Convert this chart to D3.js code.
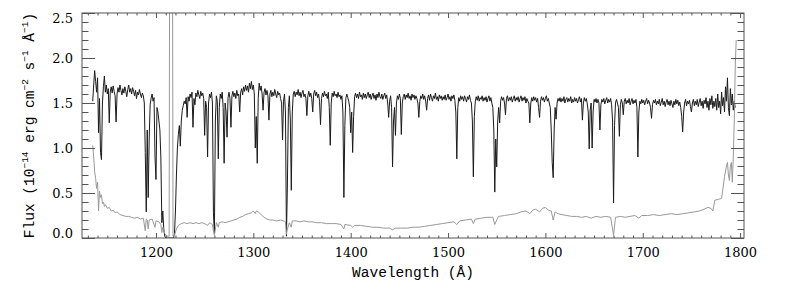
<!DOCTYPE html>
<html>
<head>
<meta charset="utf-8">
<script src="https://cdn.jsdelivr.net/npm/d3@7"></script>
<style>
  body { margin: 0; background: #fff; }
  svg { display: block; }
  .lbl { font-family: 'DejaVu Serif', serif; font-size: 13px; fill: #000; }
  .axis-title { font-family: 'Liberation Mono', monospace; font-size: 14.5px; fill: #000; }
</style>
</head>
<body>
<svg id="chart" width="785" height="292"></svg>
<script>
// data

// flux on a regular 1 A grid starting at 1135 A (units of 1e-14)
const fluxStart = 1135;
const fluxStep = 1;
const flux = [
    1.52, 1.70, 1.86, 1.74, 1.62, 1.78, 1.17, 1.55, 0.95, 0.87, 1.50, 1.68, 1.80, 1.62, 1.70, 1.60, 1.66, 1.28, 1.62, 1.68,
    1.61, 1.69, 1.63, 1.58, 1.29, 1.60, 1.67, 1.62, 1.70, 1.64, 1.59, 1.66, 1.61, 1.68, 1.63, 1.57, 1.65, 1.70, 1.62, 1.66,
    1.60, 1.67, 1.63, 1.58, 1.64, 1.55, 1.62, 1.59, 1.65, 1.60, 1.56, 1.61, 1.58, 1.50, 0.95, 0.29, 1.20, 0.45, 1.10, 1.48,
    1.55, 1.60, 1.52, 1.56, 0.90, 0.65, 1.45, 1.40, 1.30, 1.20, 0.90, 0.17, 0.30, 0.10, 0.02, 0.00, 0.00, 0.00, 0.00, 0.00,
    0.00, 0.00, 0.00, 0.00, 0.05, 0.30, 0.70, 1.00, 1.15, 1.25, 1.02, 1.30, 1.42, 1.47, 1.52, 1.49, 1.56, 1.34, 1.57, 1.52,
    1.60, 1.56, 1.62, 1.23, 1.55, 1.48, 1.61, 1.57, 1.64, 1.59, 1.55, 1.63, 1.58, 1.61, 1.55, 1.14, 1.52, 1.45, 0.90, 1.50,
    1.60, 1.56, 1.62, 1.50, 0.28, 0.05, 1.30, 1.58, 1.52, 0.88, 1.45, 1.60, 1.55, 1.62, 1.45, 0.83, 1.50, 1.40, 1.12, 1.56,
    1.62, 1.55, 1.23, 1.58, 1.63, 1.57, 1.61, 1.55, 1.64, 1.58, 1.60, 1.40, 1.62, 1.66, 1.59, 1.68, 1.63, 1.70, 1.64, 1.69,
    1.62, 1.72, 1.66, 1.74, 1.65, 1.70, 1.60, 1.00, 1.35, 0.83, 1.55, 1.72, 1.64, 1.69, 1.60, 1.42, 1.62, 1.66, 1.59, 1.64,
    1.58, 1.31, 1.60, 1.64, 1.57, 1.62, 1.58, 1.65, 1.60, 1.56, 1.63, 1.59, 1.61, 1.55, 1.50, 1.09, 1.52, 1.60, 1.40, 0.02,
    0.60, 1.45, 1.58, 1.30, 0.53, 1.40, 1.60, 1.63, 1.57, 1.62, 1.59, 1.65, 1.58, 1.62, 1.56, 1.61, 1.64, 1.57, 1.60, 1.55,
    1.36, 1.58, 1.63, 1.57, 1.61, 1.55, 1.40, 1.60, 1.64, 1.58, 1.62, 1.56, 1.60, 1.52, 1.26, 1.55, 1.61, 1.57, 1.63, 1.58,
    1.60, 1.55, 1.62, 1.45, 1.03, 1.50, 1.61, 1.57, 1.63, 1.58, 1.60, 1.56, 1.62, 1.57, 1.59, 1.54, 1.58, 1.40, 0.45, 1.25,
    1.55, 1.60, 1.56, 1.52, 1.45, 1.17, 1.40, 0.95, 1.35, 1.57, 1.61, 1.56, 1.60, 1.55, 1.62, 1.57, 1.59, 1.54, 1.61, 1.56,
    1.60, 1.55, 1.59, 1.62, 1.56, 1.60, 1.54, 1.58, 1.61, 1.55, 1.59, 1.53, 1.60, 1.56, 1.62, 1.57, 1.55, 1.60, 1.54, 1.58,
    1.61, 1.55, 1.59, 1.50, 1.34, 1.52, 1.58, 1.45, 0.79, 1.30, 1.45, 1.14, 1.50, 1.58, 1.54, 1.60, 1.55, 1.15, 1.50, 1.57,
    1.60, 1.54, 1.59, 1.56, 1.61, 1.55, 1.58, 1.53, 1.60, 1.56, 1.59, 1.54, 1.58, 1.55, 1.50, 1.34, 1.52, 1.58, 1.55, 1.60,
    1.54, 1.58, 1.52, 1.42, 1.55, 1.59, 1.53, 1.60, 1.56, 1.52, 1.58, 1.55, 1.61, 1.54, 1.57, 1.52, 1.59, 1.55, 1.58, 1.53,
    1.57, 1.54, 1.59, 1.53, 1.56, 1.60, 1.54, 1.57, 1.52, 1.58, 1.55, 1.59, 1.53, 1.40, 0.88, 1.45, 1.56, 1.52, 1.58, 1.54,
    1.57, 1.52, 1.58, 1.55, 1.51, 1.57, 1.54, 1.59, 1.53, 1.50, 1.30, 0.68, 1.35, 1.52, 1.57, 1.53, 1.58, 1.52, 1.56, 1.54,
    1.58, 1.52, 1.56, 1.53, 1.57, 1.51, 1.55, 1.58, 1.52, 1.56, 1.50, 1.45, 1.20, 0.51, 1.10, 0.79, 1.30, 1.45, 1.28, 1.52,
    1.57, 1.53, 1.56, 1.50, 1.37, 1.55, 1.58, 1.52, 1.56, 1.53, 1.57, 1.51, 1.55, 1.58, 1.52, 1.56, 1.53, 1.57, 1.51, 1.55,
    1.58, 1.52, 1.56, 1.53, 1.57, 1.50, 1.55, 1.52, 1.50, 1.28, 1.50, 1.56, 1.52, 1.57, 1.53, 1.56, 1.51, 1.55, 1.45, 1.34,
    1.52, 1.57, 1.53, 1.56, 1.51, 1.55, 1.58, 1.52, 1.55, 1.50, 1.45, 1.20, 0.84, 0.67, 1.20, 1.45, 1.32, 1.50, 1.55, 1.52,
    1.56, 1.51, 1.55, 1.52, 1.57, 1.50, 1.54, 1.56, 1.51, 1.55, 1.52, 1.57, 1.50, 1.54, 1.51, 1.56, 1.52, 1.55, 1.50, 1.54,
    1.57, 1.51, 1.55, 1.31, 1.50, 1.56, 1.52, 1.55, 1.49, 1.40, 0.99, 1.42, 1.50, 1.00, 1.40, 1.54, 1.51, 1.55, 1.50, 1.54,
    1.50, 1.20, 1.48, 1.54, 1.51, 1.55, 1.49, 1.53, 1.56, 1.50, 1.54, 1.51, 1.55, 1.48, 1.30, 0.39, 1.25, 1.50, 1.54, 1.50,
    1.45, 1.13, 1.48, 1.54, 1.50, 1.37, 1.52, 1.55, 1.49, 1.53, 1.50, 1.55, 1.48, 1.52, 1.55, 1.49, 1.53, 1.50, 1.54, 1.45,
    0.90, 1.40, 1.52, 1.49, 1.54, 1.50, 1.53, 1.48, 1.52, 1.55, 1.49, 1.53, 1.50, 1.45, 1.33, 1.48, 1.53, 1.50, 1.54, 1.48,
    1.52, 1.49, 1.54, 1.47, 1.51, 1.55, 1.48, 1.52, 1.46, 1.51, 1.54, 1.48, 1.52, 1.47, 1.53, 1.49, 1.45, 1.52, 1.48, 1.54,
    1.49, 1.53, 1.47, 1.51, 1.45, 1.35, 1.18, 1.40, 1.50, 1.54, 1.47, 1.52, 1.49, 1.53, 1.46, 1.40, 1.50, 1.54, 1.47, 1.52,
    1.48, 1.54, 1.46, 1.51, 1.55, 1.47, 1.52, 1.44, 1.53, 1.49, 1.56, 1.45, 1.52, 1.42, 1.55, 1.48, 1.58, 1.44, 1.52, 1.46,
    1.55, 1.42, 1.60, 1.45, 1.52, 1.38, 1.62, 1.47, 1.56, 1.40, 1.68, 1.52, 1.78, 1.45, 1.36, 1.66, 1.48, 1.60, 1.42, 1.52,
    1.45
];

// error spectrum as [wavelength, value]
const errorPoints = [
    [1135, 1.03], [1136, 0.90], [1137, 0.74], [1138, 0.66], [1139, 0.55], [1140, 0.62], [1141, 0.30],
    [1142, 0.52], [1143, 0.45], [1144, 0.48], [1145, 0.38], [1146, 0.40], [1147, 0.35], [1148, 0.37],
    [1150, 0.33], [1152, 0.34], [1154, 0.30], [1156, 0.31], [1158, 0.28], [1160, 0.29], [1163, 0.26],
    [1166, 0.25], [1169, 0.24], [1172, 0.24], [1175, 0.23], [1178, 0.22], [1181, 0.23], [1184, 0.21],
    [1187, 0.22], [1189, 0.08], [1190, 0.21], [1191, 0.20], [1192, 0.10], [1193, 0.20], [1196, 0.21],
    [1199, 0.12], [1200, 0.19], [1203, 0.18], [1205, 0.15], [1206, 0.06], [1207, 0.12], [1209, 0.05],
    [1211, 0.02], [1213.5, 0.02], [1214, 3.0], [1217, 3.0], [1217.5, 0.02], [1219, 0.03], [1221, 0.10],
    [1223, 0.14], [1226, 0.16], [1229, 0.17], [1232, 0.16], [1235, 0.17], [1238, 0.16], [1241, 0.17],
    [1244, 0.16], [1247, 0.17], [1250, 0.16], [1253, 0.14], [1255, 0.17], [1258, 0.15], [1259, 0.08],
    [1260, 0.03], [1261, 0.10], [1262, 0.17], [1264, 0.12], [1265, 0.17], [1268, 0.18], [1271, 0.17],
    [1274, 0.18], [1277, 0.19], [1280, 0.20], [1283, 0.21], [1286, 0.23], [1289, 0.24], [1292, 0.26],
    [1295, 0.27], [1298, 0.28], [1300, 0.30], [1302, 0.27], [1303, 0.30], [1305, 0.29], [1308, 0.26],
    [1311, 0.23], [1314, 0.21], [1317, 0.20], [1320, 0.20], [1324, 0.19], [1328, 0.20], [1331, 0.19],
    [1333, 0.18], [1334, 0.04], [1335, 0.10], [1337, 0.17], [1339, 0.12], [1340, 0.19], [1344, 0.19],
    [1348, 0.18], [1352, 0.19], [1356, 0.18], [1360, 0.18], [1365, 0.17], [1370, 0.17], [1375, 0.16],
    [1380, 0.16], [1385, 0.16], [1390, 0.15], [1393, 0.10], [1394, 0.15], [1400, 0.14], [1402, 0.12],
    [1404, 0.14], [1410, 0.14], [1416, 0.13], [1422, 0.12], [1428, 0.12], [1434, 0.11], [1440, 0.11],
    [1443, 0.09], [1446, 0.11], [1452, 0.11], [1458, 0.11], [1464, 0.12], [1470, 0.12], [1476, 0.13],
    [1482, 0.14], [1488, 0.15], [1494, 0.16], [1500, 0.17], [1506, 0.18], [1509, 0.15], [1512, 0.19],
    [1518, 0.20], [1524, 0.21], [1526, 0.16], [1528, 0.21], [1534, 0.22], [1540, 0.23], [1546, 0.23],
    [1548, 0.15], [1550, 0.20], [1552, 0.24], [1558, 0.25], [1564, 0.26], [1570, 0.27], [1575, 0.29],
    [1580, 0.30], [1584, 0.27], [1587, 0.31], [1590, 0.32], [1594, 0.29], [1597, 0.33], [1600, 0.34],
    [1603, 0.31], [1606, 0.30], [1608, 0.20], [1610, 0.29], [1613, 0.27], [1617, 0.26], [1622, 0.25],
    [1627, 0.24], [1632, 0.24], [1637, 0.23], [1642, 0.24], [1647, 0.22], [1652, 0.24], [1657, 0.23],
    [1662, 0.24], [1667, 0.23], [1670, 0.03], [1672, 0.23], [1677, 0.24], [1682, 0.23], [1687, 0.24],
    [1692, 0.25], [1696, 0.22], [1699, 0.25], [1705, 0.25], [1711, 0.26], [1717, 0.25], [1723, 0.26],
    [1729, 0.27], [1735, 0.26], [1741, 0.27], [1747, 0.28], [1753, 0.29], [1758, 0.30], [1763, 0.32],
    [1767, 0.34], [1770, 0.33], [1772, 0.30], [1774, 0.42], [1778, 0.43], [1781, 0.44], [1783, 0.60],
    [1784, 0.68], [1786, 0.80], [1787, 0.84], [1788, 0.70], [1789, 0.64], [1790, 0.80], [1791, 0.84],
    [1792, 0.62], [1793, 0.90], [1794, 1.30], [1795, 1.90], [1796, 2.20]
];

const xMajorTicks = [1200, 1300, 1400, 1500, 1600, 1700, 1800];
const yMajorTicks = [0, 0.5, 1.0, 1.5, 2.0, 2.5];
const yTickLabels = ['0.0', '0.5', '1.0', '1.5', '2.0', '2.5'];

// sizes

let plotLeft = 82;
let plotRight = 744;
let plotTop = 13;
let plotBottom = 238;

// scales

let xScale = d3.scaleLinear()
    .domain([1124, 1804])
    .range([plotLeft, plotRight]);

let yScale = d3.scaleLinear()
    .domain([0, 2.5])
    .range([plotBottom, plotTop]);

let svg = d3.select('#chart');

svg.append('defs').append('clipPath')
    .attr('id', 'plot-clip')
    .append('rect')
    .attr('x', plotLeft)
    .attr('y', plotTop)
    .attr('width', plotRight - plotLeft)
    .attr('height', plotBottom - plotTop);

// spectra

let fluxData = flux.map((v, i) => [fluxStart + i * fluxStep, v]);

let line = d3.line()
    .x(d => xScale(d[0]))
    .y(d => yScale(d[1]));

let plotArea = svg.append('g').attr('clip-path', 'url(#plot-clip)');

plotArea.append('path')
    .datum(fluxData)
    .attr('d', line)
    .attr('fill', 'none')
    .attr('stroke', '#1a1a1a')
    .attr('stroke-width', 1);

plotArea.append('path')
    .datum(errorPoints)
    .attr('d', line)
    .attr('fill', 'none')
    .attr('stroke', '#999')
    .attr('stroke-width', 1);

// axes (ticks point inward, IDL style)

let xMinor = d3.range(1130, 1801, 10).filter(v => v % 100 !== 0);
let yMinor = d3.range(1, 25).map(v => v / 10).filter(v => Math.round(v * 10) % 5 !== 0);

function styleAxis(g) {
    g.select('.domain').remove();
    g.selectAll('.tick line').attr('stroke', '#555').attr('stroke-width', 1);
}

let axes = [
    [d3.axisTop, 'translate(0,' + plotBottom + ')', xScale, xMinor, 2.5],
    [d3.axisTop, 'translate(0,' + plotBottom + ')', xScale, xMajorTicks, 5],
    [d3.axisBottom, 'translate(0,' + plotTop + ')', xScale, xMinor, 2.5],
    [d3.axisBottom, 'translate(0,' + plotTop + ')', xScale, xMajorTicks, 5],
    [d3.axisRight, 'translate(' + plotLeft + ',0)', yScale, yMinor, 6.5],
    [d3.axisRight, 'translate(' + plotLeft + ',0)', yScale, yMajorTicks, 13],
    [d3.axisLeft, 'translate(' + plotRight + ',0)', yScale, yMinor, 6.5],
    [d3.axisLeft, 'translate(' + plotRight + ',0)', yScale, yMajorTicks, 13]
];

for (const a of axes) {
    svg.append('g')
        .attr('transform', a[1])
        .call(a[0](a[2]).tickValues(a[3]).tickSize(a[4]).tickFormat(''))
        .call(styleAxis);
}

// frame
svg.append('rect')
    .attr('x', plotLeft)
    .attr('y', plotTop)
    .attr('width', plotRight - plotLeft)
    .attr('height', plotBottom - plotTop)
    .attr('fill', 'none')
    .attr('stroke', '#555')
    .attr('stroke-width', 1);

// tick labels

svg.append('g')
    .attr('transform', 'translate(0,' + plotBottom + ')')
    .call(d3.axisBottom(xScale).tickValues(xMajorTicks).tickSize(0).tickPadding(10).tickFormat(d3.format('d')))
    .call(g => g.select('.domain').remove())
    .call(g => g.selectAll('text').attr('class', 'lbl').attr('font-family', null).attr('font-size', null));

svg.append('g')
    .attr('transform', 'translate(' + plotLeft + ',0)')
    .call(d3.axisLeft(yScale).tickValues(yMajorTicks).tickSize(0).tickPadding(9)
        .tickFormat((d, i) => yTickLabels[i]))
    .call(g => g.select('.domain').remove())
    .call(g => g.selectAll('text')
        .attr('class', 'lbl')
        .attr('font-family', null)
        .attr('font-size', null)
        .attr('y', d => d === 2.5 ? 5.5 : (d === 0 ? -5 : 0)));

// axis titles

svg.append('text')
    .attr('class', 'axis-title')
    .attr('x', (plotLeft + plotRight) / 2)
    .attr('y', 277)
    .attr('text-anchor', 'middle')
    .text('Wavelength (Å)');

let yTitle = svg.append('text')
    .attr('class', 'axis-title')
    .attr('transform', 'translate(34,' + ((plotTop + plotBottom) / 2) + ') rotate(-90)')
    .attr('text-anchor', 'middle');

let titleParts = [
    ['Flux (10', 0], ['−14', 1], [' erg cm', 0], ['−2', 1], [' s', 0], ['−1', 1], [' Å', 0], ['−1', 1], [')', 0]
];
let prevSup = 0;
for (const p of titleParts) {
    let shift = p[1] ? -6 : 0;
    yTitle.append('tspan')
        .attr('dy', shift - (prevSup ? -6 : 0))
        .attr('font-size', p[1] ? '9.5px' : null)
        .text(p[0]);
    prevSup = p[1];
}
</script>
</body>
</html>
